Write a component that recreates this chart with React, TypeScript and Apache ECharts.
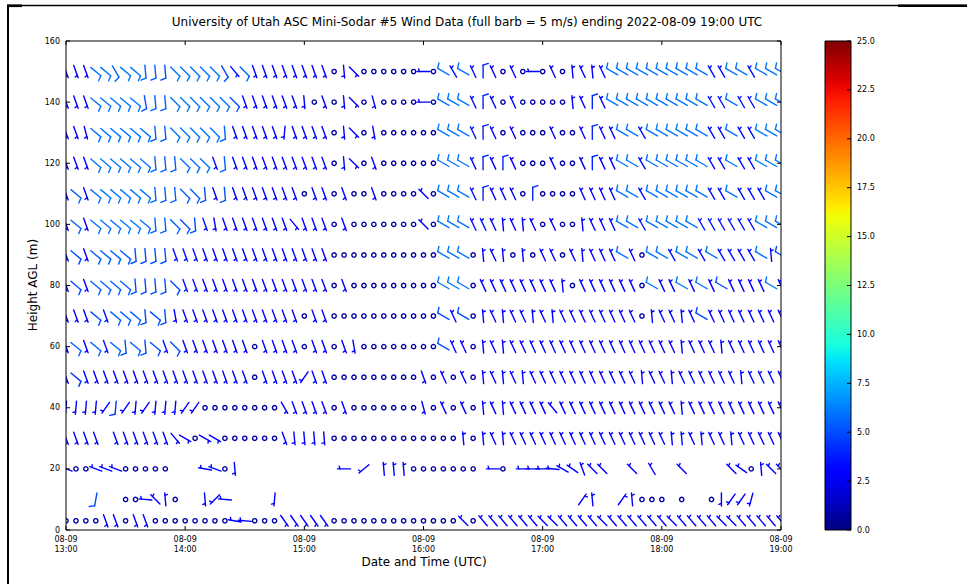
import React, { useEffect, useRef } from "react";
import * as echarts from "echarts";

const FONT = "'DejaVu Sans', 'Liberation Sans', sans-serif";
const TITLE =
  "University of Utah ASC Mini-Sodar #5 Wind Data (full barb = 5 m/s) ending 2022-08-09 19:00 UTC";
const X_NAME = "Date and Time (UTC)";
const Y_NAME = "Height AGL (m)";

// x axis: minutes after 08-09 13:00 UTC
const xTickValues = [0, 60, 120, 180, 240, 300, 360];
const xTickLabels = [
  "08-09\n13:00",
  "08-09\n14:00",
  "08-09\n15:00",
  "08-09\n16:00",
  "08-09\n17:00",
  "08-09\n18:00",
  "08-09\n19:00",
];
const yTickValues = [0, 20, 40, 60, 80, 100, 120, 140, 160];
const colorbarTickValues = [0, 2.5, 5, 7.5, 10, 12.5, 15, 17.5, 20, 22.5, 25];
const STEP_MIN = 5; // one profile every 5 minutes, 13:00 .. 19:00

const heights = [3, 10, 20, 30, 40, 50, 60, 70, 80, 90, 100, 110, 120, 130, 140, 150];

// Each token: "direction(deg from)/speed(m/s)", "o" = calm, "-" = no data
const row150 =
  "160/3 160/3 160/3 130/6 130/6 150/5.5 130/6 130/6 175/5.5 175/5.5 175/5 135/6 135/6 135/6 | " +
  "135/6 135/6 150/5 140/3.5 135/5.5 160/3 160/3 160/3 160/3 160/3 160/3 160/3 160/3 o | " +
  "175/3 135/3 o o o o o o 270/3 o 300/6 330/3.5 300/6 335/3.5 | " +
  "0/4 335/3 o 335/3 o 270/3 o 335/3 o 355/3 335/3 355/3 335/3 300/6 | " +
  "300/6 300/6 300/6 300/6 300/6 300/6 300/6 300/6 300/6 330/3.5 330/3.5 300/6 300/6 330/3.5 300/6 300/6 300/6";
const row140 =
  "160/3 160/3 160/3 130/6 130/6 130/6 130/6 130/6 170/5 175/5.5 175/5.5 135/6 135/6 135/6 | " +
  "135/6 135/6 135/6 135/5 160/3 160/3 160/3 160/3 160/3 160/3 175/3 o 160/3 o | " +
  "175/3 135/3 o 165/3 o o o o 270/3 o 300/6 300/6 300/6 335/3.5 | " +
  "0/4 335/3 o 335/3 o o o o o 355/3 335/3 0/4 335/3 300/6 | " +
  "300/6 300/6 300/6 300/6 300/6 300/6 300/6 300/6 300/6 330/3.5 330/3.5 300/6 330/3.5 330/3.5 300/6 300/6 300/6";
const row130 =
  "160/3 160/3 165/3 130/6 130/6 130/6 130/6 130/6 130/6 175/5.5 175/5.5 135/6 135/6 135/6 | " +
  "135/6 135/6 175/5.5 160/3 160/3 160/3 160/3 160/3 185/3 160/3 160/3 160/3 160/3 o | " +
  "175/3 135/3 o 170/3 o o o o o o 300/6 300/6 300/6 335/3.5 | " +
  "0/4 335/3 o 335/3 o o o 335/3 o o 335/3 0/4 335/3 335/3 | " +
  "300/6 300/6 330/3.5 300/6 300/6 300/6 300/6 300/6 300/6 330/3.5 330/3.5 300/6 330/3.5 330/3.5 300/6.2 300/6 300/6";
const row120 =
  "160/3 160/3 160/3 130/6 130/6 130/6 130/6 130/6 130/6 175/5.5 175/5.5 175/5.5 135/6 135/6 | " +
  "135/6 160/3.5 175/5.5 160/3 160/3 160/3 160/3 160/3 160/3 160/3 160/3 160/3 160/3 o | " +
  "175/3 135/3 o 160/3 o o o o o o 300/6 300/6 300/6 335/3.5 | " +
  "0/4 335/3 0/4 335/3 o o o 335/3 o o 335/3 0/4 335/3 335/3 | " +
  "300/6 300/6 330/3.5 300/6 300/6 300/6 300/6 300/6 300/6 330/3.5 330/3.5 300/6 330/3.5 330/3.5 300/6.2 300/6 300/6";
const row110 =
  "160/3 130/5.5 160/3 130/6 130/6 130/6 130/6 130/6 130/6 175/5.5 175/5.5 175/5.5 135/5.5 135/5.5 | " +
  "175/5 160/3 175/5 160/3 160/3 160/3 160/3 160/3 160/3 160/3 o 160/3 160/3 o | " +
  "160/3 o o 160/3 o o o o 315/3 o 300/6 300/6 300/6 335/3.5 | " +
  "0/4 335/3 335/3 335/3 o 0/4 o o o o 335/3 335/3 335/3 335/3 | " +
  "300/6 300/6 330/3.5 300/6 300/6 300/6 300/6 300/6 300/6 330/3.5 330/3.5 300/6 330/3.5 330/3.5 330/3.5 300/6 300/6";
const row100 =
  "160/3 130/5.5 160/3 130/6 130/6 130/6 130/6 130/6 130/6 175/5.5 175/5.5 135/5.5 135/5 175/5 | " +
  "160/3.5 170/3 160/3 160/3 160/3 160/3 160/3 160/3 160/3 140/3 160/3 160/3 160/3 o | " +
  "160/3 o o o o o o o 315/3 o 300/6 300/6 300/6 335/3.5 | " +
  "335/3.5 335/3 355/3 335/3 355/3 335/3 o 335/3 o o 355/3 335/3 335/3 335/3 | " +
  "300/6 300/6 330/3.5 300/6 300/6 300/6 300/6 300/6 330/3.5 330/3.5 330/3.5 330/3.5 330/3.5 330/3.5 300/6 300/6 300/6";
const row90 =
  "160/3 130/5 160/3 130/5.5 130/5.5 130/5.5 130/5.5 175/5 175/5 175/5 175/5 160/3.5 160/3.5 160/3.5 | " +
  "160/3 160/3 160/3 160/3 160/3 160/3 160/3 160/3 160/3 160/3 160/3 160/3 160/3 o | " +
  "o o o o o o o o o o 300/6 300/6 300/6 o | " +
  "355/3 335/3 355/3 o 355/3 o 335/3 335/3 o 335/3 355/3 335/3 335/3 335/3 | " +
  "300/6 335/3 o 300/6 300/6 330/3.5 300/6 300/6 330/3.5 300/6 330/3.5 330/3.5 330/3.5 330/3.5 300/6 355/3 300/5";
const row80 =
  "160/3 130/5 160/3 130/5.5 130/5.5 130/5.5 130/5.5 175/5 175/5 175/5 175/5 135/5 160/3.5 160/3.5 | " +
  "160/3 160/3 160/3 160/3 160/3 160/3 160/3 160/3 160/3 160/3 160/3 160/3 160/3 o | " +
  "160/3 o o o o o o o o o 300/6 300/6 300/6 o | " +
  "335/3 335/3 335/3 335/3 335/3 335/3 335/3 335/3 355/3 o 335/3 335/3 335/3 335/3 | " +
  "335/3 335/3 o 300/6 335/3 335/3 300/6 335/3 300/6 335/3 300/5 335/3 335/3 335/3 335/3 300/6 335/3";
const row70 =
  "160/3 160/3 160/3 130/5 160/3.5 130/5.5 130/5.5 130/5.5 175/5 130/5 175/5 170/3 160/3 160/3 | " +
  "160/3 160/3 160/3 160/3 160/3 160/3 160/3 160/3 160/3 160/3 o 160/3 160/3 o | " +
  "o o o o o o o o o o 300/5 335/3 300/5 o | " +
  "355/3 335/3 355/3 335/3 335/3 355/3 335/3 355/3 335/3 335/3 335/3 335/3 335/3 335/3 | " +
  "335/3 335/3 o 355/3 335/3 335/3 355/3 335/3 300/5 335/3 335/3 335/3 335/3 335/3 335/3 335/3 335/3";
const row60 =
  "160/3 130/5.5 160/3 130/5.5 160/3.5 130/5.5 175/5 130/5.5 175/5 130/5 160/3.5 135/5 160/3 160/3 | " +
  "160/3 160/3 160/3 160/3 160/3 o 160/3 160/3 160/3 160/3 o 160/3 160/3 o | " +
  "160/3 170/3 o o o o o o o o 300/5 335/3 335/3 o | " +
  "355/3 335/3 355/3 335/3 335/3 335/3 335/3 335/3 335/3 335/3 335/3 335/3 335/3 335/3 | " +
  "335/3 335/3 335/3 335/3 335/3 335/3 355/3 335/3 335/3 335/3 355/3 335/3 335/3 335/3 335/3 335/3 335/3";
const row50 =
  "160/3 130/4.5 160/3 160/3 160/3 160/3 160/3 160/3 160/3 160/3 160/3 160/3 160/3 160/3 | " +
  "160/3 160/3 160/3 160/3 160/3 o 160/3 160/3 160/3 160/3 215/3 160/3 160/3 o | " +
  "o o o o o o o o 160/3 o 335/3 o 335/3 o | " +
  "355/3 335/3 355/3 335/3 355/3 335/3 335/3 335/3 335/3 335/3 335/3 335/3 335/3 335/3 | " +
  "335/3 335/3 355/3 335/3 335/3 355/3 335/3 335/3 335/3 335/3 335/3 335/3 355/3 335/3 335/3 335/3 335/3";
const row40 =
  "185/3 185/3 185/3 185/3 215/3 185/4.5 215/3 185/3 215/3 185/3 185/3 185/3 215/3 215/3 | " +
  "o o o o o o o o 150/3 160/3 160/3 160/3 160/3 o | " +
  "160/3 o o o o o o o 165/3 o 335/3 o 335/3 o | " +
  "355/3 335/3 355/3 335/3 335/3 335/3 335/3 320/3 335/3 335/3 335/3 335/3 335/3 335/3 | " +
  "335/3 335/3 335/3 335/3 335/3 335/3 355/3 335/3 335/3 335/3 335/3 335/3 335/3 335/3 335/3 335/3 335/3";
const row30 =
  "160/3 160/3 160/3 160/3 - 160/3 160/3 160/3 160/3 160/3 160/3 140/3 120/3 o | " +
  "120/3 120/3 o o o o o o 160/3 175/3 175/3 175/3 175/3 o | " +
  "o o o o o o o o o o o o 355/3 o | " +
  "355/3 335/3 355/3 335/3 335/3 335/3 335/3 335/3 335/3 335/3 335/3 335/3 335/3 335/3 | " +
  "335/3 335/3 335/3 335/3 335/3 355/3 355/3 335/3 355/3 335/3 335/3 355/3 335/3 335/3 335/3 335/3 335/3";
const row20 =
  "290/3 o o 290/3 290/3 290/3 o o o o o - - - | " +
  "280/3 290/3 o 175/3 - - - - - - - - - - | " +
  "270/3 - 230/3 - 355/3 355/3 355/3 o o o o o o o | " +
  "- 270/3 o - 270/3 270/3 270/3 275/3 300/3 305/3 340/3 315/3 315/3 - | " +
  "- 315/3 - 330/3 - - 315/3 - - - - 315/3 305/3 o 355/3 315/3 315/3";
const row10 =
  "- - - 190/5 - - o o 275/3 315/3 355/3 o - - | " +
  "175/3 225/3 275/3 - - - - 185/3 - - - - - - | " +
  "- - - - - - - - - - - - - - | " +
  "- - - - - - - - - - 35/3 355/3 - - | " +
  "35/3 355/3 o o o - o - - o 180/3 215/3 215/3 195/3 - - -";
const row3 =
  "o o o o 160/3 160/3 o 160/3 160/3 o o o o o | " +
  "o o o 280/3 275/3 o o o 145/3 145/3 145/3 145/3 145/3 o | " +
  "o o o o o o o o o o o o 315/3 o | " +
  "320/3 320/3 320/3 320/3 320/3 320/3 315/3 315/3 320/3 320/3 320/3 320/3 315/3 320/3 | " +
  "320/3 320/3 320/3 320/3 320/3 315/3 320/3 320/3 320/3 320/3 315/3 315/3 320/3 320/3 320/3 320/3 320/3";

const rowStrings = [row3, row10, row20, row30, row40, row50, row60, row70, row80, row90, row100, row110, row120, row130, row140, row150];

const CALM_SPEED = 0.8;
const SPEED_MAX = 25;

// matplotlib "jet" colormap
const JET_R = [[0, 0], [0.35, 0], [0.66, 1], [0.89, 1], [1, 0.5]];
const JET_G = [[0, 0], [0.125, 0], [0.375, 1], [0.64, 1], [0.91, 0], [1, 0]];
const JET_B = [[0, 0.5], [0.11, 1], [0.34, 1], [0.65, 0], [1, 0]];
function seg(x: number, pts: number[][]) {
  if (x <= pts[0][0]) return pts[0][1];
  for (let i = 1; i < pts.length; i++) {
    if (x <= pts[i][0]) {
      const [x0, y0] = pts[i - 1];
      const [x1, y1] = pts[i];
      return y0 + ((y1 - y0) * (x - x0)) / (x1 - x0);
    }
  }
  return pts[pts.length - 1][1];
}
function jet(t: number) {
  const v = Math.max(0, Math.min(1, t));
  const c = (k: number) => Math.round(k * 255);
  return `rgb(${c(seg(v, JET_R))},${c(seg(v, JET_G))},${c(seg(v, JET_B))})`;
}

function buildData() {
  const out: number[][] = [];
  rowStrings.forEach((s, ri) => {
    const toks = s.split(/\s+/).filter((t) => t && t !== "|");
    toks.forEach((tok, ci) => {
      const minute = ci * STEP_MIN;
      if (minute > 360 || tok === "-") return;
      if (tok === "o") {
        out.push([minute, heights[ri], 0, CALM_SPEED]);
        return;
      }
      const [d, sp] = tok.split("/").map(Number);
      out.push([minute, heights[ri], d, sp]);
    });
  });
  return out;
}

const BARB_LEN = 13;
const LW = 1.4;

function renderBarb(_params: any, api: any) {
  const t = api.value(0);
  const h = api.value(1);
  const dir = api.value(2);
  const spd = api.value(3);
  const [cx, cy] = api.coord([t, h]);
  const color = jet(spd / SPEED_MAX);
  const rounded = 2.5 * Math.floor(spd / 2.5 + 0.5);
  const style = { stroke: color, lineWidth: LW, fill: "none", lineCap: "round" };
  const L = BARB_LEN;
  if (rounded < 2.5) {
    return { type: "circle", shape: { cx, cy, r: 0.15 * L + 0.2 }, style };
  }
  const rad = (dir * Math.PI) / 180;
  const sx = Math.sin(rad);
  const sy = -Math.cos(rad);
  const bx = Math.cos(rad);
  const by = Math.sin(rad);
  const x0 = cx - (sx * L) / 2;
  const y0 = cy - (sy * L) / 2;
  const P = (a: number) => [x0 + sx * a, y0 + sy * a];
  const children: any[] = [
    { type: "line", shape: { x1: x0, y1: y0, x2: x0 + sx * L, y2: y0 + sy * L }, style },
  ];
  const fh = 0.4 * L;
  const fw = 0.25 * L;
  const sp = 0.125 * L;
  const nfull = Math.floor(rounded / 5);
  const half = rounded % 5 >= 2.5;
  let offset = L;
  for (let i = 0; i < nfull; i++) {
    const a = P(offset);
    const b = P(offset + fw / 2);
    children.push({ type: "line", shape: { x1: a[0], y1: a[1], x2: b[0] + bx * fh, y2: b[1] + by * fh }, style });
    offset -= sp;
  }
  if (half) {
    if (nfull === 0) offset -= 1.5 * sp;
    const a = P(offset);
    const b = P(offset + fw / 4);
    children.push({ type: "line", shape: { x1: a[0], y1: a[1], x2: b[0] + (bx * fh) / 2, y2: b[1] + (by * fh) / 2 }, style });
  }
  return { type: "group", children };
}

const GRID_MAIN = { left: 66, right: 186, top: 41, bottom: 54 };
const GRID_CBAR = { left: 825, right: 116, top: 41, bottom: 54 };
const TICK_LEN = 4;

function baseGraphic() {
  return [
    { type: "rect", z: 100, shape: { x: 66, y: 41, width: 715, height: 489 }, style: { fill: "none", stroke: "#000", lineWidth: 1 } },
    { type: "rect", z: 100, shape: { x: 825, y: 41, width: 26, height: 489 }, style: { fill: "none", stroke: "#000", lineWidth: 1 } },
    {
      type: "text", x: 467, y: 22, z: 100,
      style: { text: TITLE, fontSize: 12, fontFamily: FONT, fill: "#000", align: "center", verticalAlign: "middle", textAlign: "center", textVerticalAlign: "middle" },
    },
    {
      type: "text", x: 424, y: 562, z: 100,
      style: { text: X_NAME, fontSize: 12, fontFamily: FONT, fill: "#000", align: "center", verticalAlign: "middle", textAlign: "center", textVerticalAlign: "middle" },
    },
    {
      type: "text", x: 33, y: 285, rotation: Math.PI / 2, z: 100,
      style: { text: Y_NAME, fontSize: 12, fontFamily: FONT, fill: "#000", align: "center", verticalAlign: "middle", textAlign: "center", textVerticalAlign: "middle" },
    },
    { type: "line", z: 100, shape: { x1: 7, y1: 5.5, x2: 967, y2: 5.5 }, style: { stroke: "#000", lineWidth: 1.3 } },
    { type: "rect", z: 100, shape: { x: 7, y: 4.5, width: 15, height: 2.6 }, style: { fill: "#000" } },
    { type: "rect", z: 100, shape: { x: 898, y: 4.5, width: 69, height: 2.6 }, style: { fill: "#000" } },
    { type: "line", z: 100, shape: { x1: 8, y1: 5, x2: 8, y2: 584 }, style: { stroke: "#000", lineWidth: 2 } },
  ];
}

function buildOption() {
  const stops = [];
  for (let i = 0; i <= 50; i++) stops.push({ offset: i / 50, color: jet(i / 50) });
  const label8 = { fontSize: 8, color: "#000", fontFamily: FONT };
  const noTick = { show: false };
  return {
    animation: false,
    backgroundColor: "#fff",
    textStyle: { fontFamily: FONT },
    grid: [
      { ...GRID_MAIN, show: false },
      { ...GRID_CBAR, show: false },
    ],
    xAxis: [
      {
        gridIndex: 0, type: "value", min: 0, max: 360, interval: 60,
        axisLine: { show: false }, axisTick: noTick, splitLine: { show: false },
        axisLabel: { ...label8, margin: 4, lineHeight: 10, formatter: (v: number) => xTickLabels[xTickValues.indexOf(Math.round(v))] ?? "" },
      },
      { gridIndex: 1, type: "category", data: ["speed"], show: false },
    ],
    yAxis: [
      {
        gridIndex: 0, type: "value", min: 0, max: 160, interval: 20,
        axisLine: { show: false }, axisTick: noTick, splitLine: { show: false },
        axisLabel: { ...label8, margin: 6 },
      },
      {
        gridIndex: 1, type: "value", position: "right", min: 0, max: SPEED_MAX, interval: 2.5,
        axisLine: { show: false }, axisTick: noTick, splitLine: { show: false },
        axisLabel: { ...label8, margin: 6, formatter: (v: number) => v.toFixed(1) },
      },
    ],
    series: [
      {
        type: "custom", xAxisIndex: 0, yAxisIndex: 0, clip: true, silent: true,
        data: buildData(), renderItem: renderBarb, z: 5,
      },
      {
        type: "bar", xAxisIndex: 1, yAxisIndex: 1, data: [SPEED_MAX], barWidth: "100%", silent: true,
        itemStyle: { color: new echarts.graphic.LinearGradient(0, 1, 0, 0, stops) },
      },
    ],
    graphic: baseGraphic(),
  };
}

// inward-pointing ticks (matplotlib classic style), placed through the axes' own scales
function tickGraphic(chart: any) {
  const out: any[] = [];
  const tick = (x1: number, y1: number, x2: number, y2: number) =>
    out.push({ type: "line", z: 101, shape: { x1, y1, x2, y2 }, style: { stroke: "#000", lineWidth: 1 } });
  const top = GRID_MAIN.top;
  const bottom = 584 - GRID_MAIN.bottom;
  const left = GRID_MAIN.left;
  const right = 967 - GRID_MAIN.right;
  xTickValues.forEach((v) => {
    const px = chart.convertToPixel({ xAxisIndex: 0 }, v);
    tick(px, bottom, px, bottom - TICK_LEN);
    tick(px, top, px, top + TICK_LEN);
  });
  yTickValues.forEach((v) => {
    const py = chart.convertToPixel({ yAxisIndex: 0 }, v);
    tick(left, py, left + TICK_LEN, py);
    tick(right, py, right - TICK_LEN, py);
  });
  const cbRight = 967 - GRID_CBAR.right;
  colorbarTickValues.forEach((v) => {
    const py = chart.convertToPixel({ yAxisIndex: 1 }, v);
    tick(cbRight, py, cbRight - TICK_LEN, py);
  });
  return out;
}

export default function App() {
  const ref = useRef<HTMLDivElement>(null);
  useEffect(() => {
    if (!ref.current) return;
    const chart = echarts.init(ref.current, null, { renderer: "svg" });
    chart.setOption(buildOption() as any);
    chart.setOption({ graphic: [...baseGraphic(), ...tickGraphic(chart)] } as any);
    return () => chart.dispose();
  }, []);
  return (
    <div
      ref={ref}
      style={{ position: "fixed", left: 0, top: 0, width: 967, height: 584, background: "#fff" }}
    />
  );
}
